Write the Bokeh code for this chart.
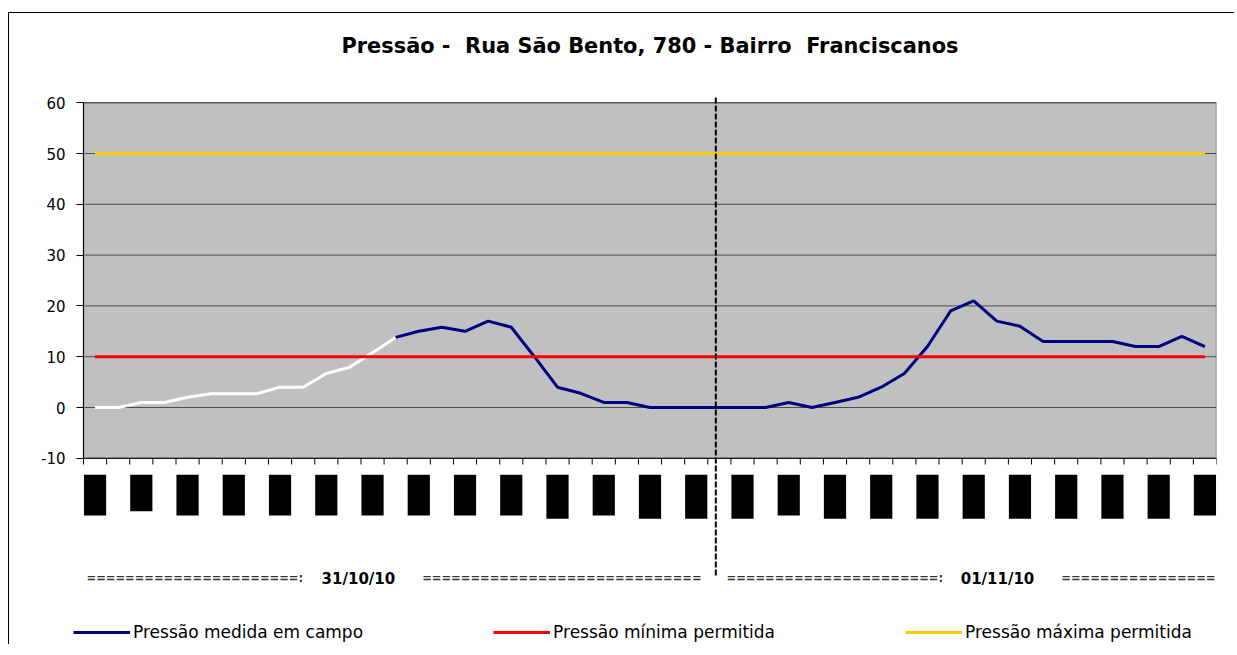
from bokeh.plotting import figure
from bokeh.models import Range1d, FixedTicker, Legend, LegendItem
from bokeh.embed import file_html
from bokeh.resources import INLINE
from bokeh.core.properties import value

# ---------------- data ----------------
titulo = "Pressão -\u00a0 Rua São Bento, 780 - Bairro\u00a0 Franciscanos"
datas = ["31/10/10", "01/11/10"]
indices = list(range(49))
pressao_medida = [0, 0, 1, 1, 2, 2.7, 2.7, 2.7, 4, 4,
                  6.7, 7.9, 10.8, 13.8, 15, 15.8, 15, 17, 15.8, 10,
                  4, 2.8, 1, 1, 0, 0, 0, 0, 0, 0,
                  1, 0, 1, 2, 4, 6.7, 12, 19, 21, 17,
                  16, 13, 13, 13, 13, 12, 12, 14, 12]
valor_minimo = 10
valor_maximo = 50
pressao_minima = [valor_minimo for _ in indices]
pressao_maxima = [valor_maximo for _ in indices]
n_trecho_branco = 14
y_ticks = [-10, 0, 10, 20, 30, 40, 50, 60]
nomes_series = ["Pressão medida em campo", "Pressão mínima permitida", "Pressão máxima permitida"]

# ---------------- geometry helpers (page px -> data) ----------------
PX = 5.08            # px per y unit
CAT = 1133.0 / 49    # px per category
AXIS_X = 83.0        # page x of category axis start
FRAME_LEFT = 9.0     # page x of the plot frame's left edge


def yd(page_y):
    return (407.0 - page_y) / PX


def xd(page_x):
    return (page_x - AXIS_X) / CAT


p = figure(width=1226, height=632,
           x_range=Range1d(xd(FRAME_LEFT), len(indices)), y_range=Range1d(yd(645), yd(13)),
           output_backend="svg", toolbar_location=None,
           x_axis_location=None,
           min_border_left=0, min_border_right=19, min_border_top=0, min_border_bottom=0,
           background_fill_color="white", border_fill_color="white",
           outline_line_color=None,
           margin=(12, 0, 0, 8),
           styles={"border-left": "1px solid #000", "border-top": "1px solid #000"})

p.xgrid.visible = False
p.ygrid.visible = False

ax = p.yaxis[0]
ax.fixed_location = 0
ax.ticker = FixedTicker(ticks=y_ticks)
ax.bounds = (y_ticks[0], y_ticks[-1])
ax.major_label_overrides = {t: str(t) for t in y_ticks}
ax.axis_line_color = "black"
ax.major_tick_out = 7
ax.major_tick_in = 0
ax.minor_tick_out = 0
ax.minor_tick_in = 0
ax.major_tick_line_color = "black"
ax.major_label_standoff = 11
ax.major_label_text_font = "DejaVu Sans"
ax.major_label_text_font_size = "15px"
ax.major_label_text_color = "black"

# plot area background
p.quad(left=[0], right=[len(indices)], bottom=[y_ticks[0]], top=[y_ticks[-1]],
       fill_color="#C0C0C0", line_color="#808080", line_width=1.5, level="image")

# horizontal gridlines
grid_y = [t for t in y_ticks if t >= 0]
p.segment(x0=0, y0=grid_y, x1=len(indices), y1=grid_y, line_color="#4d4d4d", line_width=1)

# x axis line and ticks at category boundaries
bounds_x = list(range(len(indices) + 1))
p.segment(x0=[0], y0=[y_ticks[0]], x1=[len(indices)], y1=[y_ticks[0]],
          line_color="black", line_width=1)
p.segment(x0=bounds_x, y0=y_ticks[0], x1=bounds_x, y1=yd(464),
          line_color="black", line_width=1)

x_pts = [i + 0.5 for i in indices]
p.line(x_pts[:n_trecho_branco], pressao_medida[:n_trecho_branco], line_color="white", line_width=3)
r_med = p.line(x_pts[n_trecho_branco - 1:], pressao_medida[n_trecho_branco - 1:],
               line_color="#000080", line_width=3)
r_min = p.line(x_pts, pressao_minima, line_color="#FF0000", line_width=3)
r_max = p.line(x_pts, pressao_maxima, line_color="#FFCC00", line_width=3)

# category label blocks (every other category)
bloco_px = {0: 40.7, 2: 36.4, 20: 44, 24: 44, 26: 44, 28: 44, 32: 44, 34: 44, 36: 44,
            38: 44, 40: 44, 42: 44, 44: 44, 46: 44}
lab_idx = indices[::2]
p.quad(left=[i + 0.02 for i in lab_idx], right=[i + 0.98 for i in lab_idx],
       top=[yd(474.3) for i in lab_idx],
       bottom=[yd(474.3 + bloco_px.get(i, 40.7)) for i in lab_idx],
       fill_color="black", line_color=None)

# day separator
p.segment(x0=[xd(715.3)], y0=[yd(97)], x1=[xd(715.3)], y1=[yd(577)],
          line_color="black", line_width=2, line_dash="6 2")

# group labels (clipped at the plot's right edge like the reference)
p.text(x=[xd(86), xd(421.7), xd(726), xd(1060.8)], y=[yd(577)] * 4,
       text=["=" * 22 + ":", "=" * 29, "=" * 22 + ":", "=" * 16],
       text_font=value("DejaVu Sans"), text_font_style="bold", text_font_size="11.5px",
       text_color="#333333", text_align="left", text_baseline="middle")
p.text(x=[xd(357.9), xd(997)], y=[yd(578)] * 2, text=datas,
       text_font=value("DejaVu Sans"), text_font_style="bold", text_font_size="15px",
       text_color="black", text_align="center", text_baseline="middle")

# title
p.text(x=[len(indices) / 2], y=[yd(45.5)], text=[titulo],
       text_font=value("DejaVu Sans"), text_font_style="bold", text_font_size="20.9px",
       text_color="black", text_align="center", text_baseline="middle")

legend = Legend(items=[LegendItem(label=nomes_series[0], renderers=[r_med]),
                       LegendItem(label=nomes_series[1], renderers=[r_min]),
                       LegendItem(label=nomes_series[2], renderers=[r_max])],
                orientation="horizontal", location=(73 - FRAME_LEFT, 3), spacing=130,
                glyph_width=57, glyph_height=20, label_standoff=3,
                label_text_font="DejaVu Sans", label_text_font_size="17px",
                label_text_color="black",
                padding=0, margin=0, border_line_color=None, background_fill_alpha=0)
p.add_layout(legend)

open("out.html", "w").write(file_html(p, INLINE))
